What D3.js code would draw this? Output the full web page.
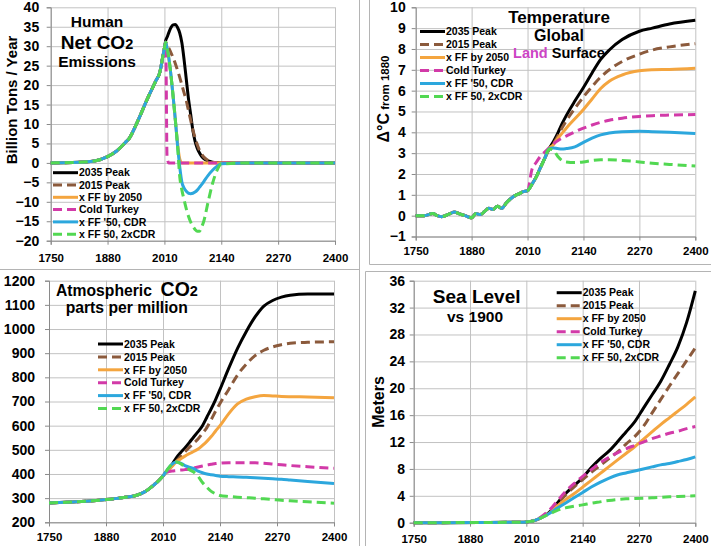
<!DOCTYPE html>
<html>
<head>
<meta charset="utf-8">
<script src="https://cdn.jsdelivr.net/npm/d3@7"></script>
<style>
    body { margin: 0; background: #fff; }
    svg { display: block; font-family: "Liberation Sans", Arial, sans-serif; font-weight: bold; }
    .grid line { stroke: #c2c2c2; stroke-width: 1; }
    .grid path { display: none; }
    .axis path, .axis line { stroke: #8a8a8a; }
    .axis text { fill: #000; font-weight: bold; }
</style>
</head>
<body>
<div id="chart"></div>
<script>
// ---- series (shared by all four panels) ----
const seriesNames = ["2035 Peak", "2015 Peak", "x FF by 2050", "Cold Turkey", "x FF '50, CDR", "x FF 50, 2xCDR"];
const seriesColors = ["#000000", "#8b5a3c", "#f4a53f", "#d23aa8", "#2ca7dd", "#52d852"];
const seriesDash = [null, "9,5", null, "9,5", null, "9,5"];
const xTicks = [1750, 1880, 2010, 2140, 2270, 2400];

// ---- Human net CO2 emissions (billion tons / year) ----
const emHistYears = [1750, 1800, 1850, 1880, 1900, 1920, 1930, 1950, 1970, 1990, 2000, 2005, 2010];
const emHist = [0, 0.1, 0.5, 1.6, 3.0, 5.2, 6.4, 11, 16.2, 21, 23.5, 26.5, 29.5];
const emYears = [2013, 2016, 2020, 2025, 2030, 2035, 2040, 2045, 2050, 2055, 2060, 2065, 2070, 2075, 2080, 2085, 2090, 2095, 2100, 2110, 2120, 2130, 2140, 2200, 2300, 2400];
const em2035 = [31.5, 32.3, 33.5, 34.8, 35.5, 35.6, 34.8, 33.4, 30.8, 26.5, 21.5, 16.5, 12.5, 8.4, 5.6, 3.8, 2.6, 1.7, 1.1, 0.5, 0.2, 0.1, 0, 0, 0, 0];
const em2015 = [31, 30.5, 29.5, 28.3, 27, 25.5, 23.8, 22, 20, 18, 16, 13.5, 11, 8.5, 6.5, 4.7, 3.3, 2.3, 1.5, 0.6, 0.2, 0.05, 0, 0, 0, 0];
const emFF2050 = [31, 29.5, 27, 22.5, 17, 11, 5, 1, 0, 0, 0, 0, 0, 0, 0, 0, 0, 0, 0, 0, 0, 0, 0, 0, 0, 0];
const emColdTurkey = [31, 1.5, 0, 0, 0, 0, 0, 0, 0, 0, 0, 0, 0, 0, 0, 0, 0, 0, 0, 0, 0, 0, 0, 0, 0, 0];
const emCDR = [31, 29.5, 27, 22.5, 17, 11, 4.5, -1, -5, -6.5, -7.3, -7.8, -7.9, -7.8, -7.5, -7, -6.3, -5.6, -4.8, -3.2, -1.9, -0.9, -0.2, 0, 0, 0];
const em2xCDR = [31, 29.5, 27, 22.5, 17, 11, 4.5, -3.5, -7, -9.5, -11.8, -13.7, -15.2, -16.3, -17.1, -17.6, -17.6, -16.5, -15, -10, -5.3, -2, -0.3, 0, 0, 0];

// ---- Temperature, land surface (deg C from 1880) ----
const tHistYears = [1750, 1770, 1790, 1800, 1810, 1830, 1840, 1850, 1865, 1880, 1890, 1900, 1910, 1920, 1930, 1940, 1950, 1960, 1970, 1980, 1990, 2000, 2010];
const tHist = [0, 0, 0.1, 0, -0.05, 0.1, 0.17, 0.1, 0, -0.1, 0.1, 0.05, 0.2, 0.35, 0.3, 0.45, 0.35, 0.6, 0.8, 0.95, 1.05, 1.15, 1.2];
const tYears = [2020, 2030, 2040, 2050, 2060, 2070, 2080, 2090, 2100, 2120, 2140, 2160, 2180, 2200, 2230, 2270, 2300, 2340, 2400];
const t2035 = [1.5, 1.85, 2.3, 2.75, 3.2, 3.55, 3.95, 4.4, 4.8, 5.5, 6.15, 6.85, 7.5, 7.95, 8.45, 8.85, 9.0, 9.2, 9.38];
const t2015 = [1.5, 1.85, 2.3, 2.75, 3.2, 3.45, 3.8, 4.2, 4.55, 5.15, 5.7, 6.2, 6.65, 7.0, 7.4, 7.75, 7.95, 8.1, 8.25];
const tFF2050 = [1.5, 1.85, 2.3, 2.75, 3.2, 3.4, 3.7, 3.95, 4.2, 4.65, 5.1, 5.6, 6.1, 6.45, 6.75, 6.95, 7.0, 7.02, 7.08];
const tColdTurkey = [2.2, 2.55, 2.85, 3.05, 3.25, 3.45, 3.6, 3.72, 3.82, 4.02, 4.2, 4.35, 4.48, 4.58, 4.68, 4.76, 4.8, 4.83, 4.85];
const tCDR = [1.5, 1.85, 2.3, 2.75, 3.2, 3.25, 3.22, 3.2, 3.22, 3.3, 3.52, 3.72, 3.88, 3.97, 4.03, 4.05, 4.03, 4.0, 3.94];
const t2xCDR = [1.5, 1.85, 2.3, 2.75, 3.2, 3.15, 2.85, 2.65, 2.58, 2.55, 2.58, 2.65, 2.68, 2.68, 2.65, 2.58, 2.52, 2.46, 2.38];

// ---- Atmospheric CO2 (ppm) ----
const cHistYears = [1750, 1800, 1850, 1880, 1900, 1920, 1950, 1970, 1990, 2000, 2010];
const cHist = [280, 284, 289, 294, 298, 303, 312, 328, 356, 372, 392];
const cYears = [2020, 2030, 2040, 2050, 2060, 2070, 2080, 2090, 2100, 2110, 2120, 2130, 2140, 2160, 2180, 2200, 2220, 2240, 2260, 2280, 2300, 2340, 2400];
const c2035 = [415, 438, 466, 488, 508, 530, 553, 575, 600, 635, 670, 708, 750, 838, 920, 990, 1050, 1095, 1118, 1132, 1140, 1145, 1145];
const c2015 = [413, 432, 452, 472, 492, 510, 528, 545, 568, 592, 625, 660, 692, 750, 810, 855, 890, 912, 926, 935, 941, 945, 947];
const cFF2050 = [412, 430, 450, 462, 474, 484, 493, 503, 518, 535, 555, 578, 600, 650, 690, 710, 720, 725, 723, 721, 720, 719, 716];
const cColdTurkey = [408, 412, 414, 416, 418, 421, 425, 429, 433, 437, 440, 443, 445, 447, 447, 447, 446, 444, 441, 438, 435, 430, 424];
const cCDR = [418, 440, 450, 445, 435, 428, 422, 412, 405, 400, 397, 394, 391, 389, 388, 386, 384, 382, 380, 378, 375, 369, 361];
const c2xCDR = [418, 440, 450, 443, 430, 418, 408, 390, 365, 345, 328, 318, 311, 307, 304, 302, 300, 297, 294, 291, 289, 285, 279];

// ---- Sea level vs 1900 (meters) ----
const sHistYears = [1750, 1900, 2000, 2010];
const sHist = [0, 0.03, 0.08, 0.12];
const sYears = [2020, 2030, 2040, 2050, 2060, 2070, 2080, 2100, 2120, 2140, 2160, 2180, 2200, 2220, 2240, 2260, 2280, 2300, 2320, 2340, 2360, 2380, 2400];
const s2035 = [0.2, 0.35, 0.6, 0.95, 1.4, 2.0, 2.8, 4.3, 5.5, 6.7, 8.2, 9.5, 10.6, 12, 13.5, 15, 17, 19, 21, 23.5, 26.2, 29.8, 34.5];
const s2015 = [0.2, 0.35, 0.6, 0.95, 1.4, 1.9, 2.6, 4.1, 5.3, 6.4, 7.5, 8.5, 9.5, 10.5, 11.7, 12.8, 14.3, 16.3, 18.3, 20.3, 22.2, 24.1, 26.0];
const sFF2050 = [0.2, 0.35, 0.6, 0.95, 1.3, 1.75, 2.4, 3.4, 4.3, 5.3, 6.3, 7.3, 8.3, 9.3, 10.3, 11.3, 12.4, 13.5, 14.6, 15.6, 16.6, 17.6, 18.7];
const sColdTurkey = [0.2, 0.4, 0.7, 1.15, 1.7, 2.35, 3.1, 4.6, 5.8, 6.9, 7.9, 8.9, 9.7, 10.4, 11.0, 11.5, 12.0, 12.5, 12.9, 13.3, 13.6, 14.0, 14.3];
const sCDR = [0.2, 0.35, 0.6, 0.9, 1.25, 1.65, 2.1, 2.9, 3.7, 4.5, 5.3, 6.0, 6.6, 7.1, 7.4, 7.7, 8.0, 8.3, 8.6, 8.8, 9.1, 9.4, 9.8];
const s2xCDR = [0.2, 0.35, 0.6, 0.9, 1.2, 1.5, 1.8, 2.2, 2.45, 2.65, 2.9, 3.1, 3.3, 3.45, 3.55, 3.6, 3.65, 3.7, 3.78, 3.85, 3.9, 3.95, 4.0];

// history is common to every scenario, the future part differs
function buildSeries(histYears, hist, futYears, futs) {
    const past = histYears.map((y, i) => ({ year: y, value: hist[i] }));
    return futs.map(f => past.concat(futYears.map((y, i) => ({ year: y, value: f[i] }))));
}

const panels = [
    { series: buildSeries(emHistYears, emHist, emYears, [em2035, em2015, emFF2050, emColdTurkey, emCDR, em2xCDR]),
      xr: [50.7, 335], yr: [240.7, 7.3], yDomain: [-20, 40], yStep: 5, yPad: 7.5, xPad: 9.5, legend: [53, 172.7, 12.3] },
    { series: buildSeries(tHistYears, tHist, tYears, [t2035, t2015, tFF2050, tColdTurkey, tCDR, t2xCDR]),
      xr: [415.7, 695.3], yr: [236.5, 7.3], yDomain: [-1, 10], yStep: 1, yPad: 6, xPad: 6.5, legend: [420, 31.5, 13] },
    { series: buildSeries(cHistYears, cHist, cYears, [c2035, c2015, cFF2050, cColdTurkey, cCDR, c2xCDR]),
      xr: [49, 334], yr: [522.3, 280.7], yDomain: [200, 1200], yStep: 100, yPad: 10, xPad: 6.3, legend: [98, 344, 12.9] },
    { series: buildSeries(sHistYears, sHist, sYears, [s2035, s2015, sFF2050, sColdTurkey, sCDR, s2xCDR]),
      xr: [413.7, 695.3], yr: [522.7, 280.7], yDomain: [0, 36], yStep: 4, yPad: 4.7, xPad: 8.5, legend: [556.7, 292.7, 13] }
];

const svg = d3.select("#chart").append("svg")
    .attr("width", 711)
    .attr("height", 546);

// panel frames
const frame = svg.append("g").attr("stroke", "#b4b4b4").attr("stroke-width", 1);
frame.append("line").attr("x1", 359.5).attr("y1", 0).attr("x2", 359.5).attr("y2", 546);
frame.append("line").attr("x1", 0).attr("y1", 269.5).attr("x2", 359.5).attr("y2", 269.5);
frame.append("line").attr("x1", 369.5).attr("y1", 0).attr("x2", 369.5).attr("y2", 264.5);
frame.append("line").attr("x1", 369.5).attr("y1", 264.5).attr("x2", 711).attr("y2", 264.5);
frame.append("line").attr("x1", 365.5).attr("y1", 271.5).attr("x2", 711).attr("y2", 271.5);
frame.append("line").attr("x1", 365.5).attr("y1", 271.5).attr("x2", 365.5).attr("y2", 546);

panels.forEach(p => {
    const x = d3.scaleLinear().domain([1750, 2400]).range(p.xr);
    const y = d3.scaleLinear().domain(p.yDomain).range(p.yr);
    const yTicks = d3.range(p.yDomain[0], p.yDomain[1] + p.yStep / 2, p.yStep);
    const w = p.xr[1] - p.xr[0];
    const h = p.yr[0] - p.yr[1];
    const g = svg.append("g");

    // gridlines
    g.append("g").attr("class", "grid")
        .attr("transform", `translate(${p.xr[0]},0)`)
        .call(d3.axisLeft(y).tickValues(yTicks).tickSize(-w).tickFormat(""));
    g.append("g").attr("class", "grid")
        .attr("transform", `translate(0,${p.yr[0]})`)
        .call(d3.axisBottom(x).tickValues(xTicks).tickSize(-h).tickFormat(""));

    // axes
    g.append("g").attr("class", "axis")
        .attr("transform", `translate(${p.xr[0]},0)`)
        .call(d3.axisLeft(y).tickValues(yTicks).tickSize(4).tickPadding(p.yPad).tickFormat(d3.format("d")))
        .call(a => a.selectAll("text").style("font-size", "14px"));
    g.append("g").attr("class", "axis")
        .attr("transform", `translate(0,${p.yr[0]})`)
        .call(d3.axisBottom(x).tickValues(xTicks).tickSize(4).tickPadding(p.xPad).tickFormat(d3.format("d")))
        .call(a => a.selectAll("text").style("font-size", "11.5px"))
        .call(a => a.select(".domain").attr("stroke", "#c2c2c2"));

    // scenario lines
    const line = d3.line()
        .x(d => x(d.year))
        .y(d => y(d.value))
        .curve(d3.curveMonotoneX);

    g.selectAll(".scen").data(p.series).enter().append("path")
        .attr("class", "scen")
        .attr("d", line)
        .attr("fill", "none")
        .attr("stroke", (d, i) => seriesColors[i])
        .attr("stroke-width", 3)
        .attr("stroke-dasharray", (d, i) => seriesDash[i])
        .attr("stroke-linejoin", "round");

    // legend
    const [lx, ly, ls] = p.legend;
    const leg = g.selectAll(".leg").data(seriesNames).enter().append("g")
        .attr("class", "leg")
        .attr("transform", (d, i) => `translate(${lx},${ly + i * ls})`);
    leg.append("line")
        .attr("x1", 0).attr("x2", 25).attr("y1", 0).attr("y2", 0)
        .attr("stroke", (d, i) => seriesColors[i])
        .attr("stroke-width", 3)
        .attr("stroke-dasharray", (d, i) => seriesDash[i]);
    leg.append("text")
        .attr("x", 26).attr("dy", "0.36em")
        .style("font-size", "10.5px")
        .text(d => d);
});

// ---- titles ----
function addText(x, y, size, parts, anchor = "middle") {
    const t = svg.append("text")
        .attr("x", x).attr("y", y)
        .attr("text-anchor", anchor)
        .style("font-size", size + "px");
    parts.forEach(pt => {
        t.append("tspan")
            .style("font-size", (pt.size || size) + "px")
            .attr("fill", pt.color || "#000")
            .text(pt.text);
    });
    return t;
}

// emissions panel
addText(97, 26.5, 15.5, [{ text: "Human" }]);
addText(97, 49.3, 19, [{ text: "Net CO" }, { text: "2", size: 14.5 }]);
addText(97, 66.7, 15.5, [{ text: "Emissions" }]);
addText(0, 0, 15, [{ text: "Billion Tons / Year" }]).attr("transform", "translate(17,100) rotate(-90)");

// temperature panel
addText(559, 22.7, 17, [{ text: "Temperature" }]);
addText(559, 40.7, 16, [{ text: "Global" }]);
addText(559, 58.3, 14.5, [{ text: "Land", color: "#cc44c4" }, { text: " Surface" }]);
addText(0, 0, 16, [{ text: "\u0394\u00B0C" }, { text: " from 1880", size: 11.5 }]).attr("transform", "translate(389,99) rotate(-90)");

// CO2 panel
addText(56, 296, 15.7, [{ text: "Atmospheric\u00A0\u00A0" }, { text: "CO", size: 19.5 }, { text: "2", size: 14.5 }], "start");
addText(126.7, 313.3, 15.7, [{ text: "parts per million" }]);

// sea level panel
addText(476.7, 303.3, 19, [{ text: "Sea Level" }]);
addText(475, 321.7, 15.5, [{ text: "vs 1900" }]);
addText(0, 0, 16, [{ text: "Meters" }]).attr("transform", "translate(384,402) rotate(-90)");
</script>
</body>
</html>
